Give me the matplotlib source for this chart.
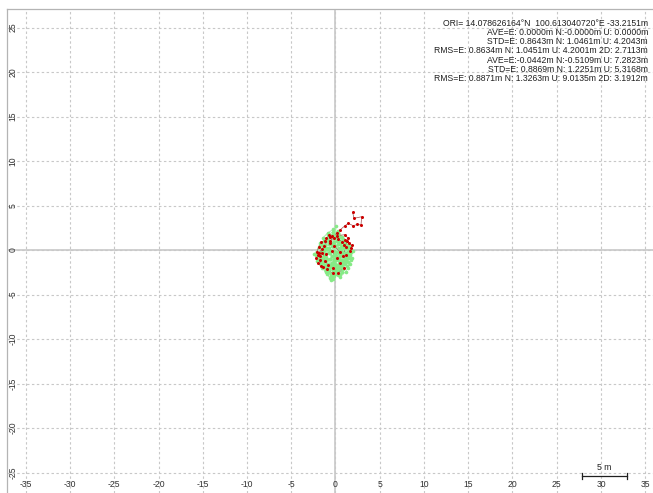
import matplotlib
matplotlib.use("Agg")
import matplotlib.pyplot as plt

plt.rcParams['font.family'] = ['Liberation Sans', 'DejaVu Sans']
plt.rcParams['axes.unicode_minus'] = False

# solution 1 (green) - E/N offsets in metres
green_e = [
    0.12, -0.35, -0.81, -1.24, -0.67, 0.05, 0.48, 0.91, 1.32, 0.74,
    0.21, -0.44, -1.02, -1.55, -1.88, -1.36, -0.72, -0.15, 0.36, 0.83,
    1.27, 1.64, 1.15, 0.52, -0.08, -0.59, -1.11, -1.63, -2.05, -1.47,
    -0.93, -0.31, 0.27, 0.79, 1.21, 1.72, 1.38, 0.86, 0.33, -0.22,
    -0.78, -1.29, -1.74, -2.21, -1.68, -1.05, -0.47, 0.09, 0.61, 1.04,
    1.49, 1.86, 1.33, 0.71, 0.18, -0.38, -0.96, -1.42, -0.88, -0.26,
    0.32, 0.95, 1.41, 0.97, 0.44, -0.13, -0.69, -1.21, -1.58, -1.02,
    -0.51, 0.03, 0.58, 1.12, 1.58, 2.01, 1.53, 1.01, 0.47, -0.05,
    -0.62, -1.17, -1.71, -2.38, -1.83, -1.26, -0.74, -0.19, 0.38, 0.89,
    1.36, 0.82, 0.25, -0.33, -0.86, -1.39, -0.97, -0.42, 0.15, 0.68,
    1.19, 1.67, 1.24, 0.63, 0.07, -0.49, -1.06, -1.52, -1.95, -1.34,
    -0.79, -0.24, 0.29, 0.76, 0.31, -0.18, 0.05, -0.11, 0.42, -0.02,
    -0.55, -0.12, 0.36, 0.88, 1.45, 1.02, 0.57, 0.04, -0.48, -1.01,
    -1.46, -1.93, -1.57, -1.12, -0.63, -0.09, 0.41, 0.93, 1.38, 1.79,
    1.46, 0.94, 0.39, -0.17, -0.71, -1.24, -1.76, -1.38, -0.84, -0.29,
    0.24, 0.72, 1.17, 0.66, 0.13, -0.41, -0.93, -1.47, -2.14, -1.61,
    -1.07, -0.52, 0.02, 0.55, 1.08, 1.62, 1.11, 0.49, -0.06, -0.58,
    -1.14, -0.69, -0.16, 0.39, 0.97, 0.61, 0.09, -0.37, -0.82, -0.35,
    0.16, 0.69, 0.26, -0.21, -0.74, -1.28, -0.81, -0.27, 0.34, 0.85,
    1.31, 0.78, 0.22, -0.31, -0.87, -1.32, -0.66, -0.04, 0.54, 0.11,
]
green_n = [
    -0.21, 0.43, 1.08, 0.52, -0.36, -1.14, -0.62, 0.18, -0.47, -1.33,
    -2.05, -1.52, -0.78, 0.14, -0.63, -1.41, -2.27, -2.91, -2.18, -1.46,
    -0.69, -1.58, -2.42, -3.05, -2.56, -1.87, -1.12, -0.31, -1.24, -2.03,
    -2.74, -3.28, -2.61, -1.92, -1.05, -0.27, 0.56, 1.21, 1.87, 1.34,
    0.71, -0.04, 0.83, -0.52, -1.69, -2.38, -1.76, -0.98, -0.14, 0.62,
    0.05, -0.93, -1.81, -2.52, -1.63, -0.72, 0.21, 1.36, 1.92, 2.31,
    1.54, 0.88, 0.32, -0.41, -1.22, -0.58, 0.26, -0.46, -1.28, -2.01,
    -2.67, -1.98, -1.21, -0.37, -0.85, -0.12, 0.47, 1.13, 0.68, -0.23,
    -1.04, -1.73, -0.94, -0.44, 0.37, 1.02, 1.63, 0.94, 0.18, -0.56,
    -1.38, -2.12, -2.83, -2.29, -1.55, -0.81, 0.07, 0.79, 1.44, 0.93,
    0.24, -0.48, -1.17, -1.95, -2.63, -3.42, -2.48, -1.36, -0.49, 0.35,
    1.16, 1.78, 2.18, 1.47, 0.66, -0.07, 2.65, -1.61, -0.96, -0.33,
    -1.63, -0.96, -0.28, 0.41, -0.18, -0.91, -1.67, -2.38, -1.71, -0.97,
    -0.22, -0.89, -1.68, -2.41, -3.12, -2.73, -2.04, -1.27, -1.98, -1.14,
    -0.42, 0.27, 0.94, 1.61, 0.98, 0.35, -0.39, -1.13, -1.86, -2.47,
    -1.84, -1.12, -0.41, 0.31, 1.02, 1.68, 1.24, 0.61, -0.86, -1.53,
    -2.22, -2.92, -2.34, -2.71, -1.62, -0.61, -1.37, -0.49, 0.43, -0.11,
    -0.57, 0.12, 0.74, 1.43, 0.76, 0.05, -0.68, -1.42, -2.16, -3.05,
    -2.37, -1.61, -0.87, -1.23, -0.34, 0.48, 1.71, 2.06, 1.76, 1.09,
    0.42, -0.21, -0.94, -1.71, -2.49, -1.74, -1.01, -0.55, -1.08, -1.93,
]

# solution 2 (red)
red_e = [
    1.94, 2.09, 2.96, 2.88, 2.47, 2.00, 1.45, 1.07, 0.50, 0.12,
    -0.35, -0.72, -1.05, -0.61, -0.18, 0.31, 0.74, 1.13, 1.52, 1.83,
    1.61, 1.24, 0.92, 1.35, 1.70, 1.18, 0.55, -0.12, -0.64, -1.18,
    -1.62, -1.84, -2.12, -1.93, -2.21, -1.76, -2.02, -1.65, -1.88, -1.52,
    -1.21, -0.83, -0.28, 0.33, 0.91, 0.48, -0.31, -0.95, -1.45, -1.79,
    -1.31, -0.57, 0.18, 1.08, 1.42, 0.86, 0.21, -0.44, -1.02, -1.57,
]
red_n = [
    4.24, 3.56, 3.74, 2.81, 2.88, 2.73, 3.00, 2.73, 2.25, 1.86,
    1.52, 1.71, 1.32, 1.05, 1.38, 1.22, 0.93, 1.15, 0.81, 0.52,
    -0.08, 0.35, 0.62, 0.98, 0.27, -0.51, -0.24, 0.46, 0.82, 1.06,
    0.91, 0.38, -0.21, -0.58, -0.93, -1.12, -1.45, -1.78, -0.36, 0.15,
    -1.22, -1.63, -2.05, -2.58, -1.98, -1.41, -2.61, -2.18, -1.89, -0.72,
    0.45, 1.48, 1.62, 1.72, 1.31, -0.68, -0.85, -0.12, -0.46, -0.31,
]

x_ticks = list(range(-35, 36, 5))
y_ticks = list(range(-25, 26, 5))

stats_lines = [
    "ORI= 14.078626164°N  100.613040720°E -33.2151m",
    "AVE=E: 0.0000m N:-0.0000m U: 0.0000m",
    "STD=E: 0.8643m N: 1.0461m U: 4.2043m",
    "RMS=E: 0.8634m N: 1.0451m U: 4.2001m 2D: 2.7113m",
    "AVE=E:-0.0442m N:-0.5109m U: 7.2823m",
    "STD=E: 0.8869m N: 1.2251m U: 5.3168m",
    "RMS=E: 0.8871m N: 1.3263m U: 9.0135m 2D: 3.1912m",
]

W, H = 653, 493
fig = plt.figure(figsize=(W / 100, H / 100), dpi=100)
ax = fig.add_axes([7 / W, 0, (W - 7) / W, (H - 9) / H])
ax.set_xlim(-37.12, 35.88)
ax.set_ylim(-27.3, 27.08)

# grid + zero lines
ax.set_xticks(x_ticks)
ax.set_yticks(y_ticks)
ax.grid(True, color='#c8c8c8', linestyle=(0, (2.2, 2.2)), linewidth=0.8)
ax.axhline(0, color='#c4c4c4', linewidth=1.1, zorder=1)
ax.axvline(0, color='#c4c4c4', linewidth=1.1, zorder=1)

for side in ['right', 'bottom']:
    ax.spines[side].set_visible(False)
for side in ['left', 'top']:
    ax.spines[side].set_color('#b4b4b4')
    ax.spines[side].set_linewidth(0.9)

# tick labels drawn inside the plot area
ax.tick_params(axis='both', length=0, labelsize=6.2, labelcolor='#303030')
ax.tick_params(axis='x', pad=-5.8)
ax.tick_params(axis='y', pad=-4.3)
plt.setp(ax.get_xticklabels(), va='center')
plt.setp(ax.get_yticklabels(), ha='center', va='center', rotation=90)

# data
ax.plot(green_e, green_n, '-', color='#aeeaae', linewidth=0.7, zorder=3)
ax.plot(red_e, red_n, '-', color='#a05050', linewidth=0.5, zorder=4)
ax.plot(green_e, green_n, 'o', color='#86ea86', markersize=2.6,
        markeredgewidth=0, zorder=5)
ax.plot(red_e, red_n, 'o', color='#cc0000', markersize=2.2,
        markeredgewidth=0, zorder=6)

# stats text, top right
for i, line in enumerate(stats_lines):
    fig.text(648 / W, 1 - (23 + i * 9.3) / H, line, ha='right', va='center',
             fontsize=6.2, color='#202020')

# scale bar
scale_len = 5
xl, yl = ax.get_xlim(), ax.get_ylim()
sb_x1 = xl[1] - 2.98
sb_x0 = sb_x1 - scale_len
sb_y = yl[0] + 1.9
cap = 0.38
ax.plot([sb_x0, sb_x1], [sb_y, sb_y], color='#202020', linewidth=0.9, zorder=7)
ax.plot([sb_x0, sb_x0], [sb_y - cap, sb_y + cap], color='#202020', linewidth=0.9, zorder=7)
ax.plot([sb_x1, sb_x1], [sb_y - cap, sb_y + cap], color='#202020', linewidth=0.9, zorder=7)
ax.text((sb_x0 + sb_x1) / 2, sb_y + 0.45, f"{scale_len} m", ha='center', va='bottom',
        fontsize=6.2, color='#202020')

fig.savefig('out.png', dpi=100)
